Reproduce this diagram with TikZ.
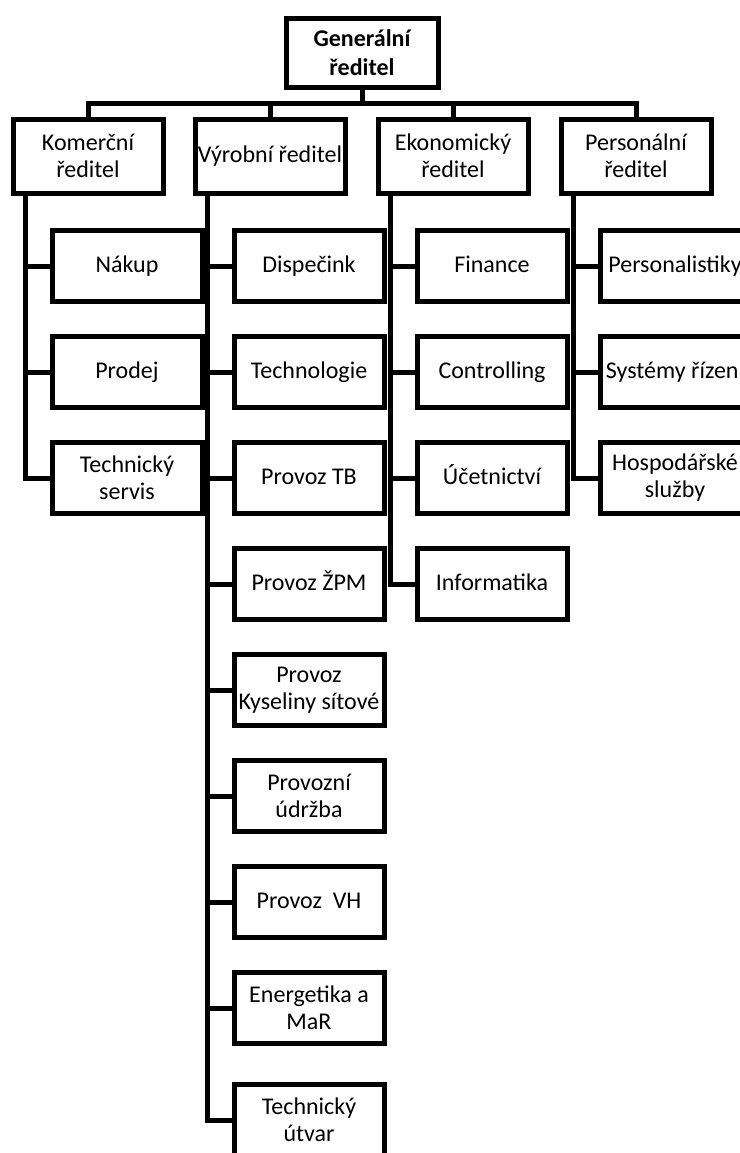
\documentclass[tikz,border=0pt]{standalone}
\usepackage{fontspec}
\setmainfont{Carlito}
\tikzset{
  unit/.style={draw=black, line width=2.5pt, minimum width=75pt, minimum height=35.5pt, inner sep=1pt, align=center, font=\fontsize{12}{13.5}\selectfont},
  oneline/.style={unit, text height=8.6pt, text depth=2.6pt},
  head/.style={unit, minimum height=37pt},
  link/.style={line width=2.5pt},
}
\begin{document}
\begin{tikzpicture}[x=0.5pt,y=-0.5pt]
\clip (0,0) rectangle (740,1153);
% vedeni
\node[unit, minimum width=76pt, minimum height=34.5pt, font=\fontsize{12}{14.5}\selectfont\bfseries] (gen) at (362,53) {Generální\\ředitel};
\node[head] (kom) at (88,156) {Komerční\\ředitel};
\node[head, text height=8.6pt, text depth=2.6pt] (vyr) at (270,156) {Výrobní ředitel};
\node[head] (eko) at (453,156) {Ekonomický\\ředitel};
\node[head] (per) at (636,156) {Personální\\ředitel};
% komercni usek
\node[oneline] (nakup) at (127,266) {Nákup};
\node[oneline] (prodej) at (127,372) {Prodej};
\node[unit] (servis) at (127,478) {Technický\\servis};
% vyrobni usek
\node[oneline] (dispecink) at (309,266) {Dispečink};
\node[oneline] (technologie) at (309,372) {Technologie};
\node[oneline] (provozTB) at (309,478) {Provoz TB};
\node[oneline] (provozZPM) at (309,584) {Provoz ŽPM};
\node[unit] (kyseliny) at (309,690) {Provoz\\Kyseliny sítové};
\node[unit] (udrzba) at (309,796) {Provozní\\údržba};
\node[oneline] (provozVH) at (309,902) {Provoz\ \ VH};
\node[unit] (energetika) at (309,1008) {Energetika a\\MaR};
\node[unit] (utvar) at (309,1120) {Technický\\útvar};
% ekonomicky usek
\node[oneline] (finance) at (492,266) {Finance};
\node[oneline] (controlling) at (492,372) {Controlling};
\node[oneline] (ucetnictvi) at (492,478) {Účetnictví};
\node[oneline] (informatika) at (492,584) {Informatika};
% personalni usek
\node[oneline] (personalistiky) at (675,266) {Personalistiky};
\node[oneline] (systemy) at (675,372) {Systémy řízení};
\node[unit] (sluzby) at (675,478) {Hospodářské\\služby};
% spojnice
\coordinate (bus) at (362,103);
\draw[link] (gen) -- (bus);
\draw[link] (kom.north) |- (bus) -| (per.north);
\draw[link] (vyr.north) |- (bus);
\draw[link] (eko.north) |- (bus);
\draw[link] ([xshift=7.5pt]kom.south west) |- (nakup.west);
\draw[link] ([xshift=7.5pt]kom.south west) |- (prodej.west);
\draw[link] ([xshift=7.5pt]kom.south west) |- (servis.west);
\draw[link] ([xshift=7.5pt]vyr.south west) |- (dispecink.west);
\draw[link] ([xshift=7.5pt]vyr.south west) |- (technologie.west);
\draw[link] ([xshift=7.5pt]vyr.south west) |- (provozTB.west);
\draw[link] ([xshift=7.5pt]vyr.south west) |- (provozZPM.west);
\draw[link] ([xshift=7.5pt]vyr.south west) |- (kyseliny.west);
\draw[link] ([xshift=7.5pt]vyr.south west) |- (udrzba.west);
\draw[link] ([xshift=7.5pt]vyr.south west) |- (provozVH.west);
\draw[link] ([xshift=7.5pt]vyr.south west) |- (energetika.west);
\draw[link] ([xshift=7.5pt]vyr.south west) |- (utvar.west);
\draw[link] ([xshift=7.5pt]eko.south west) |- (finance.west);
\draw[link] ([xshift=7.5pt]eko.south west) |- (controlling.west);
\draw[link] ([xshift=7.5pt]eko.south west) |- (ucetnictvi.west);
\draw[link] ([xshift=7.5pt]eko.south west) |- (informatika.west);
\draw[link] ([xshift=7.5pt]per.south west) |- (personalistiky.west);
\draw[link] ([xshift=7.5pt]per.south west) |- (systemy.west);
\draw[link] ([xshift=7.5pt]per.south west) |- (sluzby.west);
\end{tikzpicture}
\end{document}
